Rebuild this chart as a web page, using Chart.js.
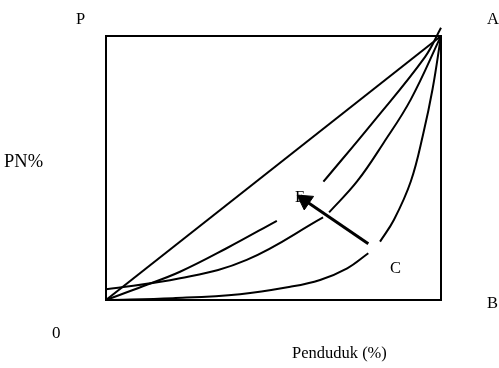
<!DOCTYPE html>
<html>
<head>
<meta charset="utf-8">
<script src="https://cdn.jsdelivr.net/npm/chart.js@4.4.0/dist/chart.umd.min.js"></script>
<style>
  html, body { margin: 0; padding: 0; background: #fff; }
  canvas { display: block; }
</style>
</head>
<body>
<canvas id="lorenz" width="499" height="368"></canvas>
<script>
// --------------------
// Data (percent of population vs percent of income)
// --------------------
const diagX = [0, 100];
const diagY = [0, 100];

// upper curve, broken where label E sits
const curveAX = [0, 11, 22.1, 36, 51, null, 64.9, 79.8, 95.2, 100];
const curveAY = [0, 5.2, 10.7, 19.6, 30, null, 44.8, 67.5, 92, 103.1];

// middle curve, broken where the arrow crosses
const curveBX = [0, 22.1, 42, 64.8, null, 66.6, 75, 82.8, 91, 100];
const curveBY = [4.05, 8.2, 15.2, 31.3, null, 33.2, 45, 59.4, 76, 100];

// lower curve, broken at the arrow tail
const curveCX = [0, 20, 40, 55, 63.9, 72, 78.3, null, 81.8, 86, 91, 94.7, 97.5, 100];
const curveCY = [0, 0.7, 2.2, 5.0, 7.6, 12, 17.7, null, 22.1, 30.5, 45, 63, 80, 100];

// arrow from C towards E
const arrowX = [78.3, 59.4];
const arrowY = [21.3, 37.7];

const labelTexts = ["P", "A", "PN%", "E", "C", "B", "0", "Penduduk (%)"];

function toPoints(xs, ys) {
  return xs.map((x, i) => ({ x: x, y: ys[i] }));
}

// --------------------
// Text labels drawn on the canvas
// --------------------
const labelPos = [
  [76, 24], [487, 24], [4, 167], [295, 202],
  [390, 273], [487, 308], [52, 338], [292, 358]
];
const labelSize = [16.5, 16.5, 18.5, 16.5, 16.5, 16.5, 17, 16.5];

const labelsPlugin = {
  id: "labels",
  beforeDatasetsDraw(chart) {
    const ctx = chart.ctx;
    ctx.save();
    ctx.fillStyle = "#000";
    ctx.textAlign = "left";
    ctx.textBaseline = "alphabetic";
    labelTexts.forEach((t, i) => {
      ctx.font = labelSize[i] + "px 'Liberation Serif', 'Times New Roman', serif";
      ctx.fillText(t, labelPos[i][0], labelPos[i][1]);
    });
    ctx.restore();
  }
};

// --------------------
// Axes: only the box border is shown
// --------------------
function boxAxis(position) {
  return {
    type: "linear",
    position: position,
    min: 0,
    max: 100,
    display: true,
    ticks: { display: false },
    grid: { display: false, drawTicks: false, tickLength: 0 },
    border: { display: true, color: "#000", width: 2 }
  };
}

const lineStyle = {
  showLine: true,
  borderColor: "#000",
  borderWidth: 2,
  pointRadius: 0,
  spanGaps: false,
  fill: false
};

new Chart(document.getElementById("lorenz"), {
  type: "scatter",
  data: {
    datasets: [
      { ...lineStyle, label: "Pemerataan", data: toPoints(diagX, diagY), tension: 0 },
      { ...lineStyle, label: "Kurva 1", data: toPoints(curveAX, curveAY), tension: 0.4, clip: false },
      { ...lineStyle, label: "Kurva 2", data: toPoints(curveBX, curveBY), tension: 0.4 },
      { ...lineStyle, label: "Kurva 3", data: toPoints(curveCX, curveCY), tension: 0.4 },
      {
        ...lineStyle,
        label: "Arah",
        data: toPoints(arrowX, arrowY),
        borderWidth: 3,
        pointStyle: "triangle",
        pointRadius: [0, 9.5],
        pointRotation: -55.5,
        pointBackgroundColor: "#000",
        pointBorderColor: "#000",
        pointBorderWidth: 1,
        clip: false
      }
    ]
  },
  options: {
    responsive: false,
    animation: false,
    layout: { padding: { left: 106, right: 58, top: 36, bottom: 68 } },
    plugins: { legend: { display: false }, tooltip: { enabled: false } },
    scales: {
      x: boxAxis("bottom"),
      y: boxAxis("left"),
      xTop: boxAxis("top"),
      yRight: boxAxis("right")
    }
  },
  plugins: [labelsPlugin]
});
</script>
</body>
</html>
